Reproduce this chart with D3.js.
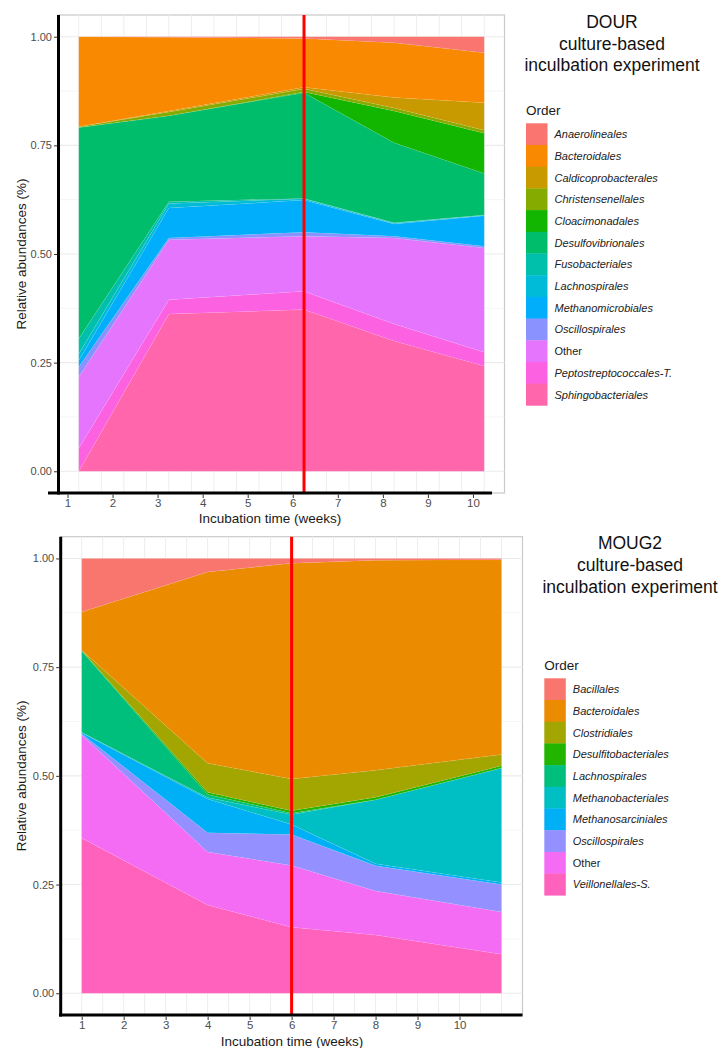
<!DOCTYPE html>
<html>
<head>
<meta charset="utf-8">
<script src="https://cdn.jsdelivr.net/npm/d3@7"></script>
<style>
  body { margin: 0; background: #fff; }
  svg { display: block; font-family: "Liberation Sans", Arial, sans-serif; }
</style>
</head>
<body>
<div id="chart"></div>
<script>
// Data
//= ================================
var weekTicks = [1, 2, 3, 4, 5, 6, 7, 8, 9, 10];
var abundanceTicks = [0, 0.25, 0.5, 0.75, 1];

// DOUR incubation (sampling weeks)
var dourWeeks = [1.25, 3.25, 6.25, 8.25, 10.25];
var dourOrders = ["Anaerolineales", "Bacteroidales", "Caldicoprobacterales", "Christensenellales",
    "Cloacimonadales", "Desulfovibrionales", "Fusobacteriales", "Lachnospirales",
    "Methanomicrobiales", "Oscillospirales", "Other", "Peptostreptococcales-T.", "Sphingobacteriales"];
// one row per order, one value per sampling week
var dourValues = [
    [0.000, 0.001, 0.004, 0.014, 0.037],
    [0.207, 0.170, 0.112, 0.126, 0.115],
    [0.000, 0.002, 0.004, 0.024, 0.063],
    [0.002, 0.009, 0.007, 0.007, 0.007],
    [0.000, 0.000, 0.002, 0.073, 0.093],
    [0.486, 0.198, 0.243, 0.184, 0.095],
    [0.035, 0.004, 0.001, 0.001, 0.001],
    [0.015, 0.010, 0.003, 0.002, 0.001],
    [0.015, 0.069, 0.074, 0.028, 0.070],
    [0.023, 0.004, 0.009, 0.004, 0.004],
    [0.164, 0.138, 0.127, 0.198, 0.240],
    [0.053, 0.033, 0.042, 0.039, 0.032],
    [0.000, 0.362, 0.372, 0.300, 0.242]
];
var dourColors = ["#FA7570", "#F98900", "#C89A00", "#86AB00", "#12B500", "#00BD6B", "#00C0AC",
    "#00BBD8", "#00AEFB", "#8A92FF", "#E675FD", "#FB61E0", "#FF66AC"];

// MOUG2 incubation (sampling weeks)
var moug2Weeks = [1, 4, 6, 8, 11];
var moug2Orders = ["Bacillales", "Bacteroidales", "Clostridiales", "Desulfitobacteriales",
    "Lachnospirales", "Methanobacteriales", "Methanosarciniales", "Oscillospirales",
    "Other", "Veillonellales-S."];
var moug2Values = [
    [0.123, 0.031, 0.011, 0.004, 0.003],
    [0.088, 0.440, 0.496, 0.483, 0.448],
    [0.001, 0.067, 0.073, 0.062, 0.026],
    [0.001, 0.005, 0.006, 0.006, 0.005],
    [0.187, 0.007, 0.003, 0.000, 0.000],
    [0.001, 0.003, 0.023, 0.147, 0.263],
    [0.002, 0.078, 0.023, 0.005, 0.005],
    [0.003, 0.044, 0.071, 0.058, 0.063],
    [0.237, 0.122, 0.142, 0.101, 0.097],
    [0.357, 0.203, 0.152, 0.134, 0.090]
];
var moug2Colors = ["#F8766D", "#EB8C00", "#A3A500", "#22B500", "#00BF7D", "#00BFC4",
    "#00B0F6", "#9590FF", "#F46BF4", "#FF62BC"];

// Setup the chart
//= ================================
var svgWidth = 721;
var svgHeight = 1048;

var svg = d3.select("#chart")
    .append("svg")
    .attr("width", svgWidth)
    .attr("height", svgHeight);

function drawPanel(opts) {
    var left = opts.xRange[0];
    var right = opts.xRange[1];
    var top = opts.yRange[1];
    var bottom = opts.yRange[0];

    var x = d3.scaleLinear().domain(opts.xDomain).range(opts.xRange);
    var y = d3.scaleLinear().domain([-0.05, 1.05]).range(opts.yRange);

    var g = svg.append("g");

    // panel background and border
    g.append("rect")
        .attr("x", left)
        .attr("y", top)
        .attr("width", right - left)
        .attr("height", bottom - top)
        .attr("fill", "#fff")
        .attr("stroke", "#c9c9c9")
        .attr("stroke-width", 1.2);

    // grid lines
    g.selectAll(null)
        .data(d3.range(0.125, 1, 0.25))
        .enter()
        .append("line")
        .attr("x1", left).attr("x2", right)
        .attr("y1", d => y(d)).attr("y2", d => y(d))
        .attr("stroke", "#f3f3f3")
        .attr("stroke-width", 0.8);

    g.selectAll(null)
        .data(abundanceTicks)
        .enter()
        .append("line")
        .attr("x1", left).attr("x2", right)
        .attr("y1", d => y(d)).attr("y2", d => y(d))
        .attr("stroke", "#ebebeb")
        .attr("stroke-width", 1.1);

    g.selectAll(null)
        .data(opts.gridWeeks)
        .enter()
        .append("line")
        .attr("x1", d => x(d)).attr("x2", d => x(d))
        .attr("y1", top).attr("y2", bottom)
        .attr("stroke", "#ededed")
        .attr("stroke-width", 1);

    // stacked areas (first order ends up on top, like ggplot)
    var table = opts.weeks.map(function (w, i) {
        var row = { week: w };
        opts.orders.forEach(function (o, j) {
            row[o] = opts.values[j][i];
        });
        return row;
    });

    var series = d3.stack()
        .keys(opts.orders.slice().reverse())(table);

    var color = d3.scaleOrdinal()
        .domain(opts.orders)
        .range(opts.colors);

    var area = d3.area()
        .x(d => x(d.data.week))
        .y0(d => y(d[0]))
        .y1(d => y(d[1]));

    g.selectAll(null)
        .data(series)
        .enter()
        .append("path")
        .attr("d", area)
        .attr("fill", d => color(d.key))
        .attr("stroke", "#ffffff")
        .attr("stroke-opacity", 0.12)
        .attr("stroke-width", 0.5);

    // red marker line
    g.append("line")
        .attr("x1", x(opts.marker)).attr("x2", x(opts.marker))
        .attr("y1", top).attr("y2", bottom)
        .attr("stroke", "#ff0000")
        .attr("stroke-width", 3);

    // black axis lines
    g.append("line")
        .attr("x1", left).attr("x2", left)
        .attr("y1", top).attr("y2", bottom + 1.5)
        .attr("stroke", "#000")
        .attr("stroke-width", 3);

    g.append("line")
        .attr("x1", opts.baseLine[0]).attr("x2", opts.baseLine[1])
        .attr("y1", bottom).attr("y2", bottom)
        .attr("stroke", "#000")
        .attr("stroke-width", 3);

    // y axis
    var leftAxis = d3.axisLeft(y)
        .tickValues(abundanceTicks)
        .tickFormat(d3.format(".2f"))
        .tickSize(3)
        .tickPadding(2);

    var yAxis = g.append("g")
        .attr("transform", `translate(${left - 1.5}, 0)`)
        .call(leftAxis);
    yAxis.select(".domain").remove();
    yAxis.selectAll("line").attr("stroke", "#333");
    yAxis.selectAll("text")
        .attr("fill", "#4d4d4d")
        .style("font-size", "11px")
        .style("font-family", "Liberation Sans, Arial, sans-serif");

    // x axis
    var bottomAxis = d3.axisBottom(x)
        .tickValues(weekTicks)
        .tickFormat(d3.format("d"))
        .tickSize(3.5)
        .tickPadding(0.5);

    var xAxis = g.append("g")
        .attr("transform", `translate(0, ${bottom + 1.5})`)
        .call(bottomAxis);
    xAxis.select(".domain").remove();
    xAxis.selectAll("line").attr("stroke", "#333");
    xAxis.selectAll("text")
        .attr("fill", "#4d4d4d")
        .style("font-size", "11.5px")
        .style("font-family", "Liberation Sans, Arial, sans-serif");

    // axis titles
    g.append("text")
        .attr("x", opts.xTitle[0])
        .attr("y", opts.xTitle[1])
        .attr("text-anchor", "middle")
        .attr("dominant-baseline", "central")
        .style("font-size", "13.5px")
        .attr("fill", "#1a1a1a")
        .text("Incubation time (weeks)");

    g.append("text")
        .attr("transform", `translate(21, ${y(0.5)}) rotate(-90)`)
        .attr("text-anchor", "middle")
        .attr("dominant-baseline", "central")
        .style("font-size", "13.5px")
        .attr("fill", "#1a1a1a")
        .text("Relative abundances (%)");

    // panel title
    g.selectAll(null)
        .data(opts.title)
        .enter()
        .append("text")
        .attr("x", opts.titlePos[0])
        .attr("y", (d, i) => opts.titlePos[1] + i * 21.8)
        .attr("text-anchor", "middle")
        .attr("dominant-baseline", "central")
        .style("font-size", "17.5px")
        .attr("fill", "#111")
        .text(d => d);

    // legend
    var legend = g.append("g")
        .attr("transform", `translate(${opts.legendPos[0]}, ${opts.legendPos[1]})`);

    legend.append("text")
        .attr("x", 0)
        .attr("y", -13)
        .attr("dominant-baseline", "central")
        .style("font-size", "13.5px")
        .attr("fill", "#1a1a1a")
        .text("Order");

    var keyH = 21.7;
    var items = legend.selectAll(null)
        .data(opts.orders)
        .enter()
        .append("g")
        .attr("transform", (d, i) => `translate(0, ${i * keyH})`);

    items.append("rect")
        .attr("width", 21.5)
        .attr("height", keyH + 0.3)
        .attr("fill", d => color(d));

    items.append("text")
        .attr("x", 28.5)
        .attr("y", keyH / 2)
        .attr("dominant-baseline", "central")
        .style("font-size", "11px")
        .style("font-style", d => d === "Other" ? "normal" : "italic")
        .attr("fill", "#222")
        .text(d => d);
}

// DOUR panel
drawPanel({
    weeks: dourWeeks,
    orders: dourOrders,
    values: dourValues,
    colors: dourColors,
    xDomain: [0.8, 10.7],
    xRange: [58.5, 504.5],
    yRange: [493, 15],
    gridWeeks: d3.range(1.25, 10.3, 0.5),
    marker: 6.25,
    baseLine: [48, 492],
    xTitle: [270, 518],
    title: ["DOUR", "culture-based", "inculbation experiment"],
    titlePos: [612, 21.7],
    legendPos: [526, 123.3]
});

// MOUG2 panel
drawPanel({
    weeks: moug2Weeks,
    orders: moug2Orders,
    values: moug2Values,
    colors: moug2Colors,
    xDomain: [0.5, 11.5],
    xRange: [60.7, 522.5],
    yRange: [1015, 536.7],
    gridWeeks: d3.range(1, 11.1, 0.5),
    marker: 6,
    baseLine: [59, 522.5],
    xTitle: [292, 1041],
    title: ["MOUG2", "culture-based", "inculbation experiment"],
    titlePos: [630, 543.3],
    legendPos: [544.3, 678.3]
});
</script>
</body>
</html>
